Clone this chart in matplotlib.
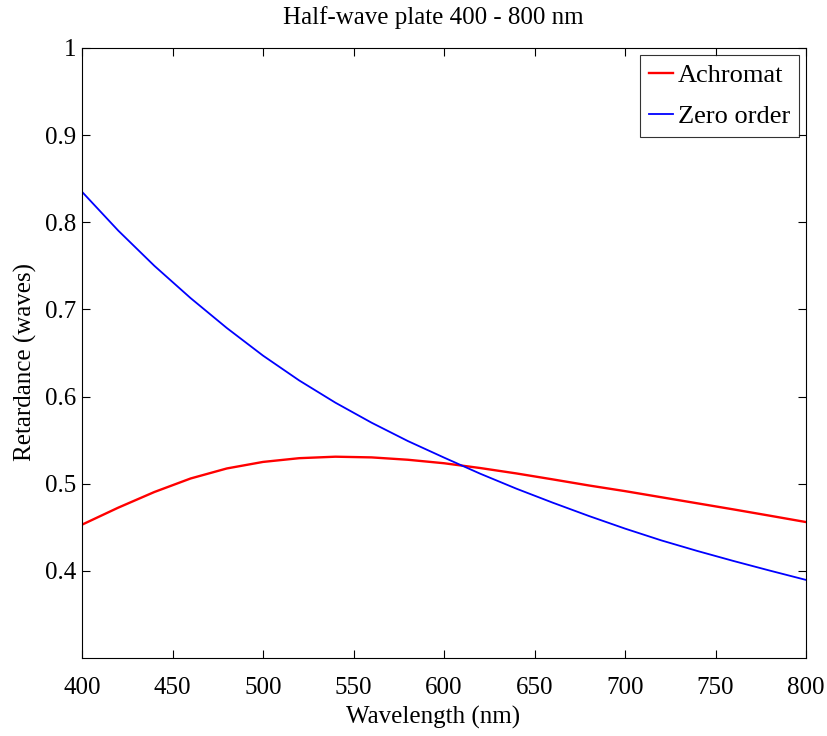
import matplotlib
matplotlib.use("Agg")
import matplotlib.pyplot as plt

wavelength = [400, 420, 440, 460, 480, 500, 520, 540, 560, 580, 600,
              620, 640, 660, 680, 700, 720, 740, 760, 780, 800]
achromat = [0.453, 0.4725, 0.4905, 0.506, 0.5175, 0.525, 0.5293, 0.531, 0.5302, 0.5275, 0.5235,
            0.518, 0.5118, 0.505, 0.498, 0.4915, 0.4845, 0.4775, 0.4705, 0.4633, 0.456]
zero_order = [0.835, 0.7905, 0.750, 0.713, 0.6787, 0.647, 0.6185, 0.593, 0.570, 0.549, 0.530,
              0.5115, 0.4943, 0.4783, 0.463, 0.4485, 0.435, 0.4228, 0.4113, 0.4003, 0.3896]
xticks = [400, 450, 500, 550, 600, 650, 700, 750, 800]
yticks = [0.4, 0.5, 0.6, 0.7, 0.8, 0.9, 1.0]
yticklabels = ["0.4", "0.5", "0.6", "0.7", "0.8", "0.9", "1"]

plt.rcParams['font.family'] = ['Liberation Serif', 'DejaVu Serif']
fig = plt.figure(figsize=(8.27, 7.36), dpi=100)
ax = fig.add_axes([82/827, 78/736, 724/827, 610/736])

ax.plot(wavelength, achromat, color='#ff0000', lw=1.7, label='Achromat')
ax.plot(wavelength, zero_order, color='#0000ff', lw=1.3, label='Zero order')

ax.set_xlim(400, 800)
ax.set_ylim(0.3, 1.0)
ax.set_xticks(xticks)
ax.set_yticks(yticks)
ax.set_yticklabels(yticklabels)
ax.tick_params(direction='in', top=True, right=True, labelsize=18, length=6, width=0.8)
ax.tick_params(axis='x', pad=14)
ax.tick_params(axis='y', pad=4)
for s in ax.spines.values():
    s.set_linewidth(0.8)

ax.set_xlabel('Wavelength (nm)', fontsize=18, labelpad=5)
ax.xaxis.label.set_x(0.485)
ax.set_ylabel('Retardance (waves)', fontsize=18, labelpad=6)
ax.yaxis.label.set_y(0.485)
ax.set_title('Half-wave plate 400 - 800 nm', fontsize=18, pad=17, x=0.485)

leg = ax.legend(loc='upper right', fontsize=19, frameon=True, fancybox=False,
                edgecolor='black', handlelength=0.9, handletextpad=0.2,
                borderaxespad=0.25, borderpad=0.35, labelspacing=0.65)
leg.get_frame().set_linewidth(0.8)

fig.savefig('out.png', dpi=100)
